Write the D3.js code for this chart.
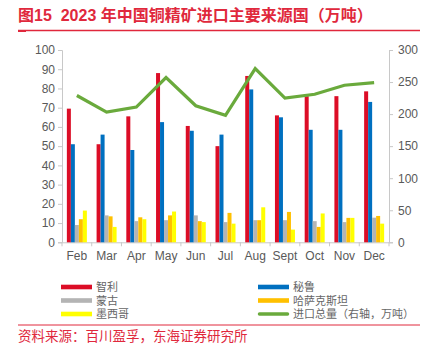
<!DOCTYPE html>
<html><head><meta charset="utf-8">
<script src="https://cdn.jsdelivr.net/npm/d3@7"></script>
<style>body{margin:0;background:#fff}svg{display:block}text{font-family:"Liberation Sans","Noto Sans CJK SC",sans-serif}</style>
</head><body>
<script>
const months = ["Feb","Mar","Apr","May","Jun","Jul","Aug","Sept","Oct","Nov","Dec"];
const chile = [69.5,51,65.5,88,60.5,50,86.5,66,76,76,78.5];
const peru = [51,56,48,62.5,58,56,79.5,65,58.5,58.5,73];
const mongolia = [9,14,11,11.5,14,10.5,11.5,11.5,11,10.5,12.8];
const kazakhstan = [12,13.5,13,14,11,15.3,11.5,15.8,8,12.7,13.7];
const mexico = [16.5,8,12,16,10.5,9.7,18.2,6.6,15,12.7,9.7];
const totalImport = [229,203,211,257,213,198,271,225,231,245,249];
const leftTicks = [0,10,20,30,40,50,60,70,80,90,100];
const rightTicks = [0,50,100,150,200,250,300];
const seriesNames = ["智利","秘鲁","蒙古","哈萨克斯坦","墨西哥","进口总量（右轴，万吨）"];
const colors = ["#dc0d26","#0070c0","#b4b4b4","#ffc000","#ffff00","#6aaa3c"];

const W=427,H=347;
const svg=d3.select("body").append("svg").attr("width",W).attr("height",H);
const red="#e0283c";
// title
svg.append("text").attr("x",18).attr("y",21).attr("fill",red).attr("font-size",16).attr("font-weight","bold")
  .attr("font-family","'Noto Sans CJK SC',sans-serif").style("white-space","pre")
  .text("图15\u00a0\u00a02023\u00a0年中国铜精矿进口主要来源国（万吨）");
svg.append("line").attr("x1",18).attr("x2",420).attr("y1",30.5).attr("y2",30.5).attr("stroke",red).attr("stroke-width",1.3);
svg.append("line").attr("x1",18).attr("x2",26).attr("y1",31.5).attr("y2",31.5).attr("stroke",red).attr("stroke-width",1);

const x0=62,x1=389,yTop=50,yBot=242.3;
const x=d3.scaleBand().domain(months).range([x0,x1]).padding(0);
const yL=d3.scaleLinear().domain([0,100]).range([yBot,yTop]);
const yR=d3.scaleLinear().domain([0,300]).range([yBot,yTop]);

const axisColor="#c8c8c8", tickText="#595959";
// left axis
const gl=svg.append("g").attr("transform",`translate(${x0},0)`).call(d3.axisLeft(yL).tickValues(leftTicks).tickSize(4).tickPadding(3));
gl.select(".domain").attr("stroke",axisColor);
gl.selectAll(".tick line").attr("stroke",axisColor);
gl.selectAll("text").attr("fill",tickText).attr("font-size",12).attr("font-family","'Liberation Sans',sans-serif");
// right axis
const gr=svg.append("g").attr("transform",`translate(${x1},0)`).call(d3.axisRight(yR).tickValues(rightTicks).tickSize(4).tickPadding(5));
gr.select(".domain").attr("stroke",axisColor);
gr.selectAll(".tick line").attr("stroke",axisColor);
gr.selectAll("text").attr("fill",tickText).attr("font-size",12).attr("font-family","'Liberation Sans',sans-serif");
// bottom axis
const gb=svg.append("g").attr("transform",`translate(0,${yBot})`).call(d3.axisBottom(x).tickSize(0).tickPadding(9));
gb.select(".domain").attr("stroke",axisColor);
gb.selectAll("text").attr("fill",tickText).attr("font-size",12).attr("font-family","'Liberation Sans',sans-serif");
// boundary ticks
svg.append("g").selectAll("line").data(d3.range(months.length+1)).join("line")
  .attr("x1",i=>x0+i*x.step()).attr("x2",i=>x0+i*x.step()).attr("y1",yBot).attr("y2",yBot+4).attr("stroke",axisColor);

const series=[chile,peru,mongolia,kazakhstan,mexico];
const inner=d3.scaleBand().domain(d3.range(5)).range([0,20]);
const off=(x.bandwidth()-20)/2;
series.forEach((s,si)=>{
  svg.append("g").selectAll("rect").data(s).join("rect")
    .attr("x",(d,i)=>x(months[i])+off+inner(si)).attr("width",inner.bandwidth())
    .attr("y",d=>yL(d)).attr("height",d=>yBot-yL(d)).attr("fill",colors[si]);
});
// line
const line=d3.line().x((d,i)=>x(months[i])+x.bandwidth()/2).y(d=>yR(d));
svg.append("path").datum(totalImport).attr("d",line).attr("fill","none").attr("stroke",colors[5]).attr("stroke-width",3.2).attr("stroke-linejoin","miter");

// legend
const legPos=[[61,287],[258,287],[61,300.5],[258,300.5],[61,314],[258,314]];
seriesNames.forEach((name,si)=>{
  const [lx,ly]=legPos[si];
  if(si===5){
    svg.append("line").attr("x1",lx+1.5).attr("x2",lx+29.5).attr("y1",ly).attr("y2",ly).attr("stroke",colors[si]).attr("stroke-width",3.5).attr("stroke-linecap","round");
  } else {
    svg.append("rect").attr("x",lx).attr("y",ly-2.3).attr("width",31).attr("height",4.6).attr("fill",colors[si]);
  }
  svg.append("text").attr("x",lx+35).attr("y",ly+4).attr("font-size",11).attr("fill","#666")
    .attr("font-family","'Noto Sans CJK SC',sans-serif").text(name);
});

svg.append("line").attr("x1",18).attr("x2",420).attr("y1",325).attr("y2",325).attr("stroke",red).attr("stroke-width",1);
svg.append("text").attr("x",18).attr("y",341).attr("fill",red).attr("font-size",13.5)
  .attr("font-family","'Noto Sans CJK SC',sans-serif").text("资料来源：百川盈孚，东海证券研究所");
</script>
</body></html>
